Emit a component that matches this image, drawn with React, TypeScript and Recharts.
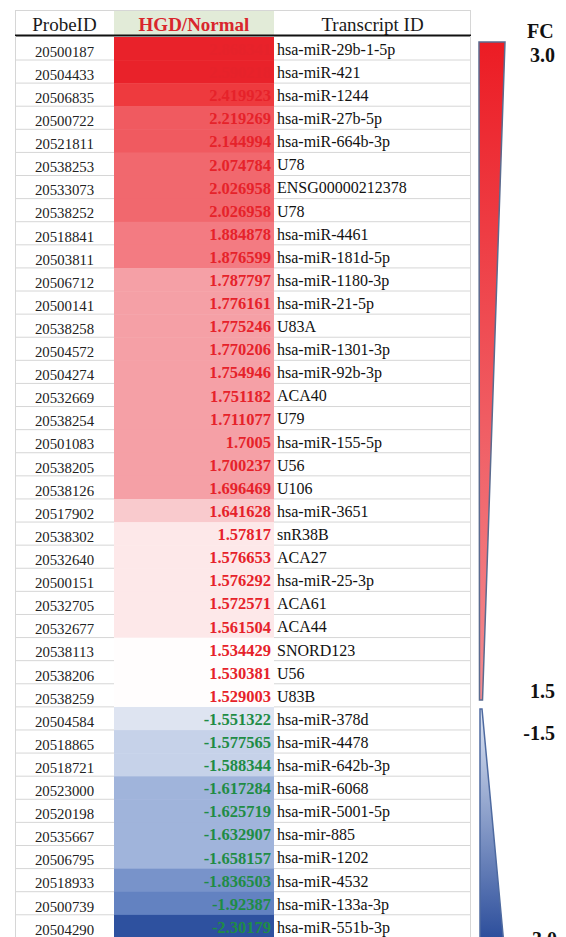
import { Bar, BarChart, XAxis, YAxis } from "recharts";

const probeIds = [
  "20500187", "20504433", "20506835", "20500722", "20521811", "20538253",
  "20533073", "20538252", "20518841", "20503811", "20506712", "20500141",
  "20538258", "20504572", "20504274", "20532669", "20538254", "20501083",
  "20538205", "20538126", "20517902", "20538302", "20532640", "20500151",
  "20532705", "20532677", "20538113", "20538206", "20538259",
  "20504584", "20518865", "20518721", "20523000", "20520198", "20535667",
  "20506795", "20518933", "20500739", "20504290",
];

const transcriptIds = [
  "hsa-miR-29b-1-5p", "hsa-miR-421", "hsa-miR-1244", "hsa-miR-27b-5p",
  "hsa-miR-664b-3p", "U78", "ENSG00000212378", "U78", "hsa-miR-4461",
  "hsa-miR-181d-5p", "hsa-miR-1180-3p", "hsa-miR-21-5p", "U83A",
  "hsa-miR-1301-3p", "hsa-miR-92b-3p", "ACA40", "U79", "hsa-miR-155-5p",
  "U56", "U106", "hsa-miR-3651", "snR38B", "ACA27", "hsa-miR-25-3p",
  "ACA61", "ACA44", "SNORD123", "U56", "U83B",
  "hsa-miR-378d", "hsa-miR-4478", "hsa-miR-642b-3p", "hsa-miR-6068",
  "hsa-miR-5001-5p", "hsa-mir-885", "hsa-miR-1202", "hsa-miR-4532",
  "hsa-miR-133a-3p", "hsa-miR-551b-3p",
];

// first two values are hidden in the picture (red on red), estimated
const foldChanges = [
  2.868341, 2.590218, 2.419923, 2.219269, 2.144994, 2.074784, 2.026958,
  2.026958, 1.884878, 1.876599, 1.787797, 1.776161, 1.775246, 1.770206,
  1.754946, 1.751182, 1.711077, 1.7005, 1.700237, 1.696469, 1.641628,
  1.57817, 1.576653, 1.576292, 1.572571, 1.561504, 1.534429, 1.530381,
  1.529003,
  -1.551322, -1.577565, -1.588344, -1.617284, -1.625719, -1.632907,
  -1.658157, -1.836503, -1.92387, -2.30179,
];

const rows = probeIds.map((probe, i) => ({
  probe,
  transcript: transcriptIds[i],
  fc: foldChanges[i],
}));

const FONT = "'Times New Roman', 'Liberation Serif', serif";
const RED = "#e6222a";
const GREEN = "#1f8c45";
const GRID = "#d6d6d6";

function cellFill(v: number) {
  if (v >= 2.5) return "#e9222a";
  if (v >= 2.3) return "#ee3a3e";
  if (v >= 2.1) return "#f05a60";
  if (v >= 2.0) return "#f1686e";
  if (v >= 1.85) return "#f37b82";
  if (v >= 1.68) return "#f5a0a6";
  if (v >= 1.6) return "#f9cacd";
  if (v >= 1.55) return "#fde8e9";
  if (v > 0) return "#fffdfd";
  if (v > -1.56) return "#dee4f1";
  if (v > -1.6) return "#c6d2e9";
  if (v > -1.7) return "#a0b4db";
  if (v > -1.87) return "#7893ca";
  if (v > -2.0) return "#6382c1";
  return "#2e519f";
}

function HeatCell(props: any) {
  const { background, y, height, payload } = props;
  const bx = background?.x ?? 114;
  const bw = background?.width ?? 160;
  const by = background?.y ?? y;
  const bh = background?.height ?? height;
  const fc: number = payload.fc;
  const bottom = by + bh;
  return (
    <g>
      <rect x={bx} y={by} width={bw} height={bh + 0.6} fill={cellFill(fc)} />
      <line x1={15} x2={bx} y1={bottom} y2={bottom} stroke={GRID} />
      <line x1={bx + bw} x2={471} y1={bottom} y2={bottom} stroke={GRID} />
      <text
        x={bx + bw - 3}
        y={by + bh / 2 + 6.5}
        textAnchor="end"
        fontFamily={FONT}
        fontWeight="bold"
        fontSize={16.5}
        fill={fc > 0 ? RED : GREEN}
      >
        {String(fc)}
      </text>
    </g>
  );
}

function ProbeTick(props: any) {
  const { y, payload } = props;
  return (
    <text x={64.5} y={y + 8.2} textAnchor="middle" fontFamily={FONT} fontSize={14.8} fill="#222">
      {payload.value}
    </text>
  );
}

function TranscriptTick(props: any) {
  const { x, y, index } = props;
  return (
    <text x={x + 3} y={y + 6.3} textAnchor="start" fontFamily={FONT} fontSize={16} fill="#111">
      {transcriptIds[index]}
    </text>
  );
}

function Overlay() {
  return (
    <svg
      width={566}
      height={937}
      style={{ position: "absolute", left: 0, top: 0, pointerEvents: "none" }}
    >
      <defs>
        <linearGradient id="fcRed" x1="0" y1="0" x2="0" y2="1">
          <stop offset="0" stopColor="#ec1c24" />
          <stop offset="1" stopColor="#f38c91" />
        </linearGradient>
        <linearGradient id="fcBlue" x1="0" y1="0" x2="0" y2="1">
          <stop offset="0" stopColor="#dfe6f3" />
          <stop offset="1" stopColor="#2b4d9b" />
        </linearGradient>
      </defs>
      {/* header */}
      <rect x={15.5} y={10.5} width={455} height={25} fill="#fff" stroke={GRID} />
      <rect x={114} y={11} width={160} height={24} fill="#e2ebd8" />
      <text x={64.5} y={31} textAnchor="middle" fontFamily={FONT} fontSize={19} fill="#1a1a1a">
        ProbeID
      </text>
      <text x={194} y={31} textAnchor="middle" fontFamily={FONT} fontSize={19} fontWeight="bold" fill="#d9262d">
        HGD/Normal
      </text>
      <text x={372.5} y={31} textAnchor="middle" fontFamily={FONT} fontSize={19} fill="#1a1a1a">
        Transcript ID
      </text>
      <line x1={15} x2={471} y1={35.5} y2={35.5} stroke="#111" strokeWidth={2} />
      <line x1={15.5} x2={15.5} y1={36} y2={937} stroke={GRID} />
      <line x1={470.5} x2={470.5} y1={36} y2={937} stroke={GRID} />
      {/* FC colour scale */}
      <polygon
        points="479,42 505,42 482.5,700 479.5,700"
        fill="url(#fcRed)"
        stroke="#5a6b8f"
        strokeWidth={1.5}
      />
      <polygon
        points="480,709 482,709 503.5,940 480,940"
        fill="url(#fcBlue)"
        stroke="#4e6aa0"
        strokeWidth={1.5}
      />
      <g fontFamily={FONT} fontWeight="bold" fontSize={20} fill="#111">
        <text x={527} y={38}>FC</text>
        <text x={555} y={62} textAnchor="end">3.0</text>
        <text x={555} y={698} textAnchor="end">1.5</text>
        <text x={555} y={740} textAnchor="end">-1.5</text>
        <text x={557} y={946} textAnchor="end">-3.0</text>
      </g>
    </svg>
  );
}

export default function App() {
  return (
    <div style={{ position: "fixed", left: 0, top: 0, width: 566, height: 937, overflow: "hidden", background: "#fff" }}>
      <div style={{ position: "absolute", left: 0, top: 37 }}>
        <BarChart
          layout="vertical"
          width={566}
          height={901}
          data={rows}
          margin={{ top: 0, right: 95, bottom: 0, left: 15 }}
          barCategoryGap={0}
        >
          <XAxis xAxisId="fc" type="number" domain={[-3, 3]} hide />
          <YAxis
            yAxisId="probe"
            type="category"
            dataKey="probe"
            width={99}
            interval={0}
            axisLine={false}
            tickLine={false}
            tickSize={0}
            tick={ProbeTick}
          />
          <YAxis
            yAxisId="tid"
            orientation="right"
            type="category"
            dataKey="probe"
            width={197}
            interval={0}
            axisLine={false}
            tickLine={false}
            tickSize={0}
            tickMargin={0}
            tick={TranscriptTick}
          />
          <Bar
            xAxisId="fc"
            yAxisId="probe"
            dataKey="fc"
            shape={HeatCell}
            isAnimationActive={false}
          />
        </BarChart>
      </div>
      <Overlay />
    </div>
  );
}
